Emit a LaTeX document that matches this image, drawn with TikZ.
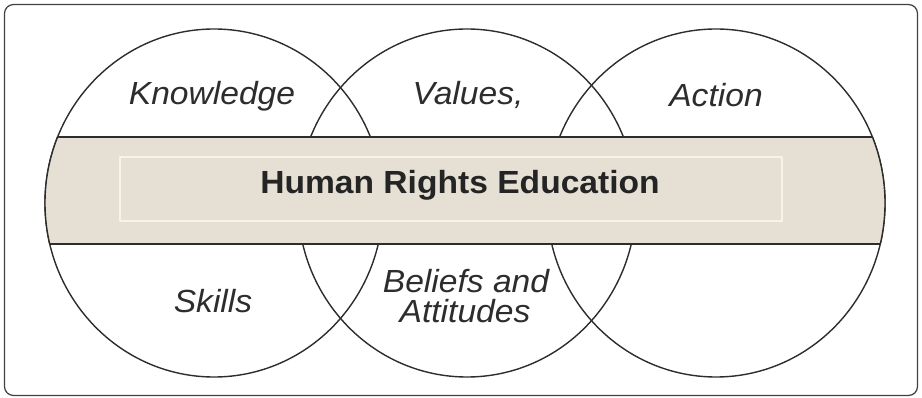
\documentclass[tikz,border=0pt]{standalone}
\usepackage{fontspec}
\setmainfont[FakeStretch=1.05]{Liberation Sans}
\usetikzlibrary{calc}
\definecolor{bandfill}{RGB}{229,224,211}
\definecolor{bandedge}{RGB}{246,243,232}
\definecolor{inkgray}{RGB}{45,45,45}

\begin{document}
\begin{tikzpicture}[x=1pt, y=-1pt, line join=round, line cap=round,
  lbl/.style={font=\fontsize{32}{36}\selectfont\itshape, text=inkgray, anchor=base, inner sep=0pt},
  ring/.style={draw=inkgray, line width=1.4pt}]
\fill[white] (0,0) rectangle (922,398);
\useasboundingbox (0,0) rectangle (922,398);
\coordinate (L) at (214,203);
\coordinate (M) at (467,203);
\coordinate (R) at (716,203);
\coordinate (T0) at (57.6,137);
\coordinate (T1) at (872.4,137);
\coordinate (B0) at (49.8,244);
\coordinate (B1) at (880.2,244);
% the three rings
\draw[ring] (L) ellipse [x radius=169pt, y radius=174pt];
\draw[ring] (M) ellipse [x radius=169pt, y radius=174pt];
\draw[ring] (R) ellipse [x radius=169pt, y radius=174pt];
% band across the rings
\begin{scope}
\clip (0,137) rectangle (922,244);
\fill[bandfill] (L) ellipse [x radius=169pt, y radius=174pt];
\fill[bandfill] (R) ellipse [x radius=169pt, y radius=174pt];
\fill[bandfill] (214,130) rectangle (716,250);
\end{scope}
\begin{scope}
\clip (0,137) rectangle (214,244);
\draw[ring] (L) ellipse [x radius=169pt, y radius=174pt];
\end{scope}
\begin{scope}
\clip (716,137) rectangle (922,244);
\draw[ring] (R) ellipse [x radius=169pt, y radius=174pt];
\end{scope}
\draw[ring] (T0) -- (T1);
\draw[ring] (B0) -- (B1);
\draw[draw=bandedge, line width=1.8pt] (120,157) rectangle (782,221);
% frame
\draw[black!75, line width=1.2pt, rounded corners=9pt] (4.5,4.5) rectangle (917.5,395.5);
% labels
\node[lbl] (know) at (212,105) {Knowledge};
\node[lbl] (vals) at (468,105) {Values,};
\node[lbl] (act) at (716,107) {Action};
\node[lbl] (skil) at (213,313) {Skills};
\node[lbl] (bel) at (466,293) {Beliefs and};
\node[lbl] (att) at (465,323) {Attitudes};
\node[font=\fontsize{32}{38}\selectfont\bfseries, text=inkgray!80!black, anchor=base, inner sep=0pt] (hre) at (460,194) {Human Rights Education};
\end{tikzpicture}
\end{document}
